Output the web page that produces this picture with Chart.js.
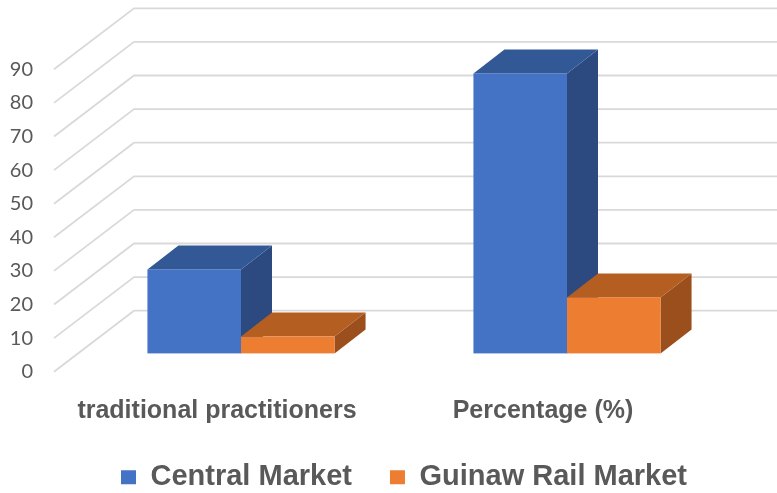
<!DOCTYPE html>
<html>
<head>
<meta charset="utf-8">
<title>Central Market vs Guinaw Rail Market</title>
<script src="https://cdn.jsdelivr.net/npm/chart.js@4.4.0/dist/chart.umd.min.js"></script>
<style>
  html, body { margin: 0; padding: 0; background: #fff; }
  #wrap { width: 777px; height: 493px; }
</style>
</head>
<body>
<div id="wrap"><canvas id="chart"></canvas></div>
<script>
// data
const categories = ['traditional practitioners', 'Percentage (%)'];
const centralMarket = [25, 83.33];
const guinawRailMarket = [5, 16.67];
const yTicks = [0, 10, 20, 30, 40, 50, 60, 70, 80, 90];

// colours: front / top / side of each 3D bar
const faces = [
    { front: '#4472c4', top: '#335896', side: '#2c4a7f' },
    { front: '#ed7d31', top: '#b45e22', side: '#9a4f1c' }
];

// offsets of the front and back walls from the bar plane, and bar depth
const FRONT = { dx: -24, dy: 18.3 };
const BACK = { dx: 56, dy: -42.7 };
const DEPTH = { dx: 31, dy: -24 };

const bars3d = {
    id: 'bars3d',
    beforeDatasetsDraw(chart) {
        const ctx = chart.ctx;
        const y = chart.scales.y;
        const area = chart.chartArea;
        ctx.save();

        // perspective gridlines + value labels
        ctx.strokeStyle = '#d9d9d9';
        ctx.lineWidth = 1.8;
        ctx.fillStyle = '#595959';
        ctx.font = '20px Lato';
        ctx.textAlign = 'right';
        ctx.textBaseline = 'middle';
        yTicks.forEach(v => {
            const py = y.getPixelForValue(v);
            const fx = area.left + FRONT.dx, fy = py + FRONT.dy;
            ctx.beginPath();
            ctx.moveTo(fx, fy);
            ctx.lineTo(area.left + BACK.dx, py + BACK.dy);
            ctx.lineTo(chart.width, py + BACK.dy);
            ctx.stroke();
            ctx.fillText(String(v), fx - 21, fy);
        });

        // boxes
        chart.data.datasets.forEach((ds, i) => {
            const c = faces[i];
            chart.getDatasetMeta(i).data.forEach(bar => {
                const l = bar.x - bar.width / 2, r = bar.x + bar.width / 2;
                const t = bar.y, b = bar.base;

                ctx.fillStyle = c.side;
                ctx.beginPath();
                ctx.moveTo(r, t);
                ctx.lineTo(r + DEPTH.dx, t + DEPTH.dy);
                ctx.lineTo(r + DEPTH.dx, b + DEPTH.dy);
                ctx.lineTo(r, b);
                ctx.closePath();
                ctx.fill();

                ctx.fillStyle = c.top;
                ctx.beginPath();
                ctx.moveTo(l, t);
                ctx.lineTo(l + DEPTH.dx, t + DEPTH.dy);
                ctx.lineTo(r + DEPTH.dx, t + DEPTH.dy);
                ctx.lineTo(r, t);
                ctx.closePath();
                ctx.fill();

                ctx.fillStyle = c.front;
                ctx.fillRect(l, t, r - l, b - t);
            });
        });

        ctx.restore();
        return false; // skip the flat bars
    }
};

new Chart(document.getElementById('chart'), {
    type: 'bar',
    data: {
        labels: categories,
        datasets: [
            { label: 'Central Market', data: centralMarket, backgroundColor: faces[0].front },
            { label: 'Guinaw Rail Market', data: guinawRailMarket, backgroundColor: faces[1].front }
        ]
    },
    options: {
        responsive: true,
        maintainAspectRatio: false,
        animation: false,
        events: [],
        layout: { padding: { left: 78, right: 47, top: 51, bottom: -8.7 } },
        datasets: { bar: { categoryPercentage: 0.574, barPercentage: 1 } },
        scales: {
            x: {
                grid: { display: false },
                border: { display: false },
                afterFit(scale) { scale.height -= 36.7; },
                ticks: {
                    color: '#595959',
                    padding: 35,
                    labelOffset: FRONT.dx,
                    font: { family: 'Liberation Sans', size: 25, weight: 'bold' }
                }
            },
            y: { display: false, min: 0, max: 90 }
        },
        plugins: {
            tooltip: { enabled: false },
            legend: {
                position: 'bottom',
                labels: {
                    boxWidth: 15,
                    boxHeight: 14,
                    padding: 38,
                    color: '#595959',
                    font: { family: 'Liberation Sans', size: 29, weight: 'bold' }
                }
            }
        }
    },
    plugins: [bars3d]
});
</script>
</body>
</html>
